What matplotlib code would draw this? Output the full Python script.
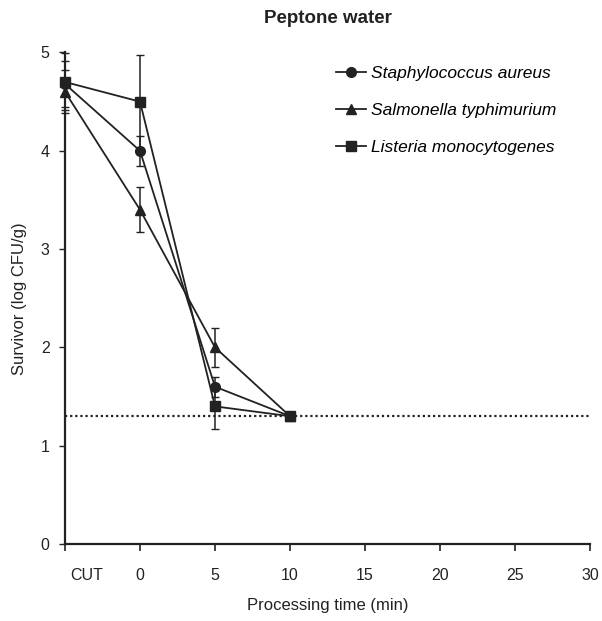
"""
Survivor counts of three pathogens in peptone water over processing time.
"""

import matplotlib
matplotlib.use("Agg")
import matplotlib.pyplot as plt
import matplotlib.transforms as mtransforms

plt.rcParams["font.family"] = ["Liberation Sans", "DejaVu Sans"]

# x positions: "CUT" sits one 5-min step before time 0
tick_positions = [-5, 0, 5, 10, 15, 20, 25, 30]
tick_labels = ["CUT", "0", "5", "10", "15", "20", "25", "30"]
sample_times = [-5, 0, 5, 10]

staph = [4.68, 4.0, 1.6, 1.3]
staph_err = [0.23, 0.15, 0.10, 0.0]
salmonella = [4.6, 3.4, 2.0, 1.3]
salmonella_err = [0.22, 0.23, 0.20, 0.0]
listeria = [4.7, 4.5, 1.4, 1.3]
listeria_err = [0.29, 0.47, 0.23, 0.0]

detection_limit = 1.3

series = [
    ("Staphylococcus aureus", staph, staph_err, "o"),
    ("Salmonella typhimurium", salmonella, salmonella_err, "^"),
    ("Listeria monocytogenes", listeria, listeria_err, "s"),
]

W, H = 602, 621
fig = plt.figure(figsize=(W / 100, H / 100), dpi=100)
ax = fig.add_axes([65 / W, 1 - 544 / H, (590 - 65) / W, (544 - 52.5) / H])

handles = []
for name, vals, errs, marker in series:
    eb = ax.errorbar(
        sample_times, vals, yerr=errs, color="#222222", marker=marker,
        markersize=7, linewidth=1.3, elinewidth=1.1, capsize=3,
        capthick=1.0, clip_on=False, label=name, zorder=3,
    )
    handles.append(eb.lines[0])

ax.axhline(detection_limit, color="#222222", linestyle=(0, (1, 1.3)),
           linewidth=1.6, zorder=2)

ax.set_xlim(-5, 30)
ax.set_ylim(0, 5)
ax.set_xticks(tick_positions)
ax.set_xticklabels(tick_labels)
ax.set_yticks(range(0, 6))

for side in ["top", "right"]:
    ax.spines[side].set_visible(False)
for side in ["left", "bottom"]:
    ax.spines[side].set_linewidth(1.6)
    ax.spines[side].set_color("#222222")

ax.tick_params(axis="x", direction="out", length=5, width=1.2, pad=12,
               labelsize=11.5, colors="#222222")
ax.tick_params(axis="y", direction="out", length=4, width=1.0, pad=7,
               labelsize=11.5, colors="#222222")

# "CUT" label sits just right of the axis origin
cut_label = ax.get_xticklabels()[0]
cut_label.set_transform(cut_label.get_transform()
                        + mtransforms.ScaledTranslation(22 / 100, 0, fig.dpi_scale_trans))

ax.set_xlabel("Processing time (min)", fontsize=12, labelpad=11, color="#222222")
ax.set_ylabel("Survivor (log CFU/g)", fontsize=12, labelpad=10, color="#222222")
ax.set_title("Peptone water", fontsize=13.5, fontweight="bold", pad=21, color="#222222")

fig.legend(
    handles, [s[0] for s in series], loc="upper left",
    bbox_to_anchor=(336 / W, 1 - 66 / H), frameon=False,
    prop={"style": "italic", "size": 12.5}, handlelength=1.7,
    handletextpad=0.3, labelspacing=1.25, borderpad=0, borderaxespad=0,
)

fig.savefig("out.png", dpi=100)
